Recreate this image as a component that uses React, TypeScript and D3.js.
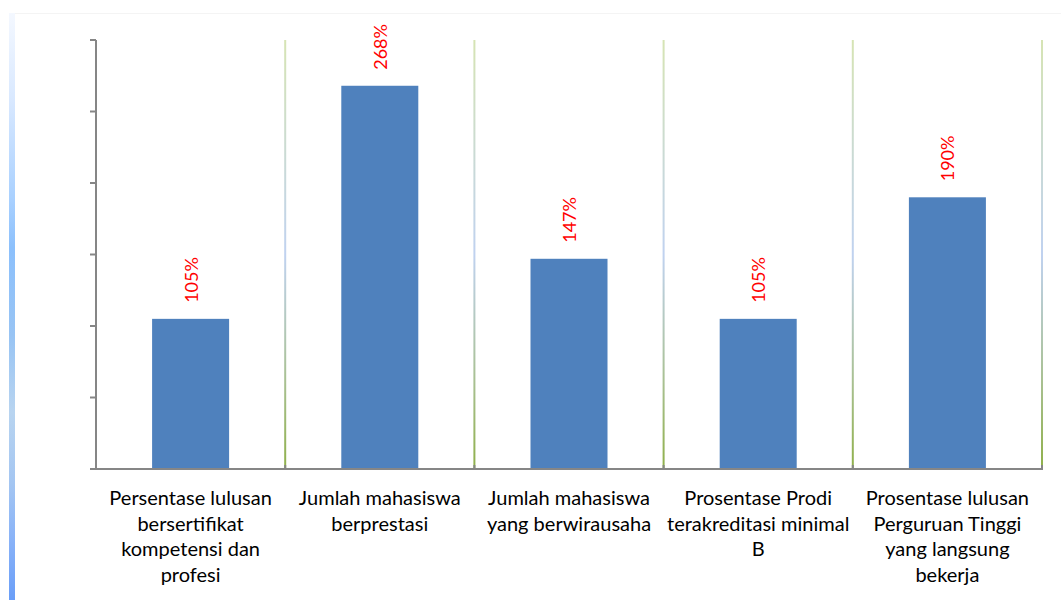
import React from "react";
import * as d3 from "d3";

const categories: string[][] = [
  ["Persentase lulusan", "bersertifikat", "kompetensi dan", "profesi"],
  ["Jumlah mahasiswa", "berprestasi"],
  ["Jumlah mahasiswa", "yang berwirausaha"],
  ["Prosentase Prodi", "terakreditasi minimal", "B"],
  ["Prosentase lulusan", "Perguruan Tinggi", "yang langsung", "bekerja"],
];
const values: number[] = [105, 268, 147, 105, 190];
const labels: string[] = ["105%", "268%", "147%", "105%", "190%"];
const yTicks: number[] = [0, 50, 100, 150, 200, 250, 300];

const W = 1061;
const H = 600;
const left = 96;
const right = 1042;
const top = 40;
const bottom = 469;
const FONT = "Lato, 'Noto Sans', sans-serif";

export default function App() {
  const idx = categories.map((_, i) => String(i));
  const x = d3
    .scaleBand<string>()
    .domain(idx)
    .range([left, right])
    .paddingInner(0.593)
    .paddingOuter(0.2965);
  const y = d3.scaleLinear().domain([0, 300]).range([bottom, top]);
  const step = x.step();
  const bounds = d3.range(1, categories.length + 1).map((i) => left + i * step);

  return (
    <svg
      width={W}
      height={H}
      style={{ position: "absolute", left: 0, top: 0, background: "#fff" }}
    >
      <defs>
        <linearGradient id="sideBar" x1="0" y1="0" x2="0" y2="1">
          <stop offset="0" stopColor="#f4f8ff" />
          <stop offset="0.15" stopColor="#d8e8ff" />
          <stop offset="0.32" stopColor="#a8d0ff" />
          <stop offset="0.4" stopColor="#8cc0fc" />
          <stop offset="0.55" stopColor="#98c4f4" />
          <stop offset="0.68" stopColor="#b8d4f0" />
          <stop offset="0.8" stopColor="#a4c6f2" />
          <stop offset="0.9" stopColor="#88b2f8" />
          <stop offset="1" stopColor="#6a9ef8" />
        </linearGradient>
        <linearGradient id="grid" x1="0" y1="0" x2="0" y2="1">
          <stop offset="0" stopColor="#d6e4b4" />
          <stop offset="0.5" stopColor="#c0d2f0" />
          <stop offset="0.8" stopColor="#a8c090" />
          <stop offset="1" stopColor="#8fb04a" />
        </linearGradient>
      </defs>

      <line x1={9} x2={W} y1={13.5} y2={13.5} stroke="#f4f4f4" />
      <rect x={9} y={13} width={6} height={H - 13} fill="url(#sideBar)" />

      {bounds.map((bx, i) => (
        <rect key={"g" + i} x={bx - 1} y={y(300)} width={2} height={bottom - y(300)} fill="url(#grid)" />
      ))}

      {values.map((v, i) => (
        <rect
          key={"b" + i}
          x={x(String(i))}
          y={y(v)}
          width={x.bandwidth()}
          height={bottom - y(v)}
          fill="#4f81bd"
        />
      ))}

      {/* y axis */}
      <line x1={left} x2={left} y1={y(300)} y2={bottom} stroke="#868686" strokeWidth={2} />
      {yTicks.map((t) => (
        <line key={"t" + t} x1={left - 6} x2={left} y1={y(t)} y2={y(t)} stroke="#868686" strokeWidth={2} />
      ))}
      {/* x axis */}
      <line x1={left - 6} x2={right + 1} y1={bottom} y2={bottom} stroke="#868686" strokeWidth={2} />
      {[left, ...bounds].map((bx, i) => (
        <line key={"xt" + i} x1={bx} x2={bx} y1={bottom - 4} y2={bottom} stroke="#868686" strokeWidth={2} />
      ))}

      {values.map((v, i) => {
        const cx = (x(String(i)) as number) + x.bandwidth() / 2;
        const yy = y(v) - 16;
        return (
          <text
            key={"l" + i}
            transform={`translate(${cx},${yy}) rotate(-90)`}
            fill="#ff0000"
            fontFamily={FONT}
            fontSize={18}
            dominantBaseline="central"
            textAnchor="start"
          >
            {labels[i]}
          </text>
        );
      })}

      {categories.map((lines, i) => {
        const cx = (x(String(i)) as number) + x.bandwidth() / 2;
        return (
          <text
            key={"c" + i}
            x={cx}
            fontFamily={FONT}
            fontSize={20}
            fill="#000"
            textAnchor="middle"
          >
            {lines.map((ln, j) => (
              <tspan key={j} x={cx} y={505 + j * 25.5}>
                {ln}
              </tspan>
            ))}
          </text>
        );
      })}
    </svg>
  );
}
